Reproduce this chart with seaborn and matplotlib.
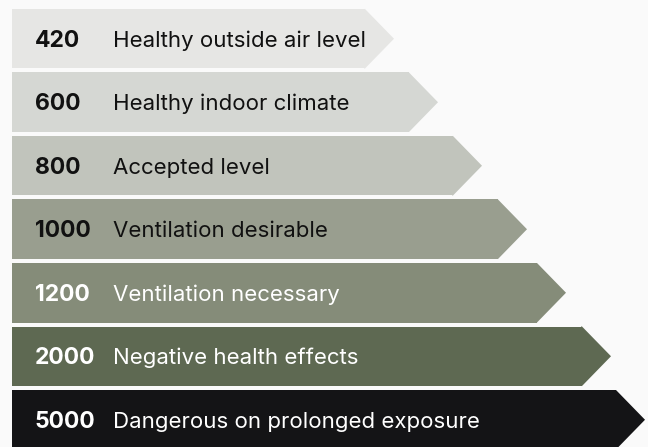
import matplotlib
matplotlib.use("Agg")
import matplotlib.pyplot as plt
from matplotlib.patches import Polygon
import seaborn as sns
import pandas as pd

# ---- data ----
levels = ["420", "600", "800", "1000", "1200", "2000", "5000"]
descriptions = [
    "Healthy outside air level",
    "Healthy indoor climate",
    "Accepted level",
    "Ventilation desirable",
    "Ventilation necessary",
    "Negative health effects",
    "Dangerous on prolonged exposure",
]
bar_length = [353, 397, 441, 486, 525, 570, 604]
colors = ["#e6e6e4", "#d5d7d3", "#c1c4bc", "#999e8f", "#858c79", "#5e6952", "#141416"]
text_colors = ["#111111", "#111111", "#111111", "#111111", "#ffffff", "#ffffff", "#ffffff"]

df = pd.DataFrame({"level": levels, "length": bar_length, "desc": descriptions})

sns.set_theme(style="white")
plt.rcParams["font.family"] = ["Inter", "DejaVu Sans"]

fig = plt.figure(figsize=(6.48, 4.47), dpi=100, facecolor="#fafafa")
ax = fig.add_axes([0, 0, 1, 1])
ax.set_facecolor("#fafafa")

sns.barplot(data=df, y="level", x="length", hue="level", palette=colors,
            orient="h", width=0.937, legend=False, ax=ax, linewidth=0,
            saturation=1)

tip = 29
for i, p in enumerate(ax.patches):
    x1 = p.get_x() + p.get_width()
    y0 = p.get_y()
    y1 = y0 + p.get_height()
    yc = (y0 + y1) / 2
    ax.add_patch(Polygon([(x1 - 1, y0), (x1, y0), (x1 + tip, yc), (x1, y1), (x1 - 1, y1)],
                         closed=True, facecolor=p.get_facecolor(), edgecolor="none",
                         linewidth=0))

for i, (lv, ds) in enumerate(zip(levels, descriptions)):
    ax.text(23, i + 0.03, lv, fontsize=16.5, fontweight="bold", color=text_colors[i],
            va="center", ha="left")
    ax.text(101, i + 0.03, ds, fontsize=16, color=text_colors[i],
            va="center", ha="left")

ax.set_xlim(-12, 636)
ax.set_ylim(6.429, -0.610)
ax.axis("off")

fig.savefig("out.png", dpi=100, facecolor="#fafafa")
